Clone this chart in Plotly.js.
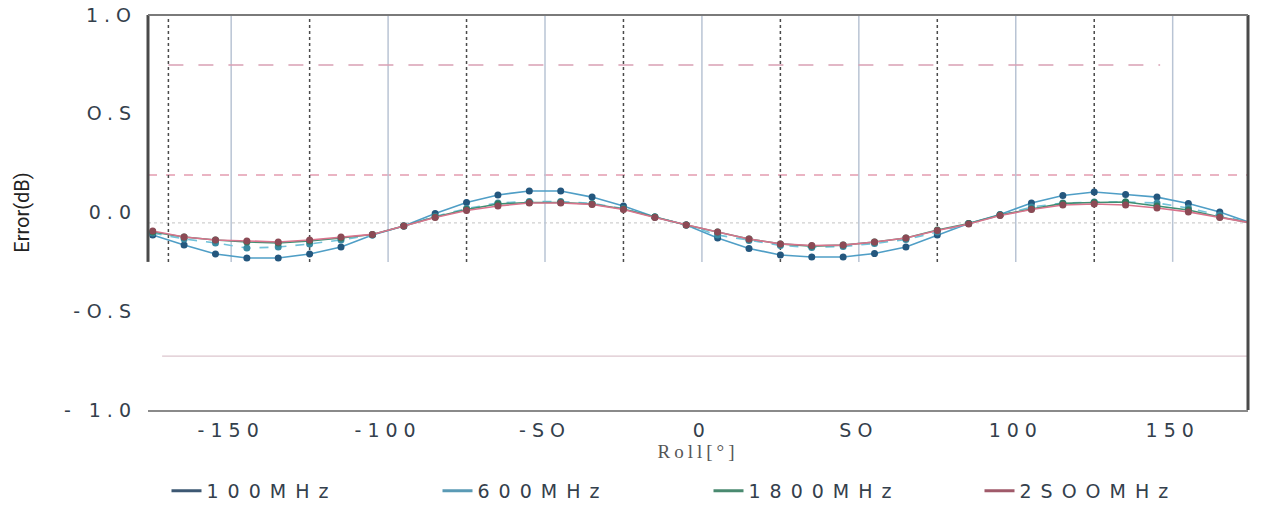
<!DOCTYPE html>
<html>
<head>
<meta charset="utf-8">
<script src="https://cdn.plot.ly/plotly-3.0.1.min.js"></script>
<style>
  html, body { margin: 0; padding: 0; background: #fff; }
  #chart { width: 1271px; height: 506px; }
  .xtick text, .ytick text { letter-spacing: 6px; }
  .legendtext { letter-spacing: 9px; }
  .g-xtitle text { letter-spacing: 4px; }
</style>
</head>
<body>
<div id="chart"></div>
<script>
// ---- data ----
const roll = [-175,-165,-155,-145,-135,-125,-115,-105,-95,-85,-75,-65,-55,-45,-35,-25,-15,-5,
              5,15,25,35,45,55,65,75,85,95,105,115,125,135,145,155,165,175];

const err100MHz = [-0.114,-0.165,-0.210,-0.230,-0.230,-0.210,-0.175,-0.114,-0.068,-0.005,
                   0.051,0.089,0.109,0.109,0.078,0.033,-0.023,-0.063,-0.129,-0.182,
                   -0.215,-0.225,-0.225,-0.208,-0.175,-0.114,-0.056,-0.010,0.048,0.086,
                   0.104,0.091,0.078,0.046,0.003,-0.053];
const err600MHz = [-0.104,-0.134,-0.154,-0.180,-0.175,-0.159,-0.139,-0.114,-0.068,-0.020,
                   0.020,0.048,0.056,0.056,0.046,0.020,-0.023,-0.063,-0.114,-0.142,
                   -0.167,-0.177,-0.172,-0.157,-0.137,-0.099,-0.056,-0.013,0.028,0.048,
                   0.053,0.053,0.048,0.023,-0.013,-0.053];
const err1800MHz = [-0.099,-0.124,-0.139,-0.149,-0.154,-0.144,-0.129,-0.111,-0.068,-0.023,
                    0.015,0.043,0.051,0.051,0.043,0.018,-0.023,-0.063,-0.099,-0.134,
                    -0.159,-0.170,-0.165,-0.149,-0.129,-0.089,-0.056,-0.013,0.018,0.046,
                    0.051,0.053,0.033,0.013,-0.023,-0.053];
const err2500MHz = [-0.094,-0.124,-0.139,-0.144,-0.149,-0.139,-0.124,-0.111,-0.068,-0.025,
                    0.010,0.033,0.048,0.048,0.041,0.015,-0.025,-0.063,-0.099,-0.134,
                    -0.159,-0.167,-0.165,-0.149,-0.129,-0.091,-0.058,-0.015,0.015,0.038,
                    0.043,0.038,0.023,0.003,-0.025,-0.053];

const seriesNames = ["100MHz", "600MHz", "1800MHz", "2SOOMHz"];

const xTickVals = [-150, -100, -50, 0, 50, 100, 150];
const xTickText = ["-150", "-100", "-SO", "0", "SO", "100", "150"];
const yTickVals = [1, 0.5, 0, -0.5, -1];
const yTickText = ["1.O", "O.S", "0.0", "-O.S", "- 1.0"];

const majorGridX = [-150, -100, -50, 0, 50, 100, 150];
const minorGridX = [-170, -125, -75, -25, 25, 75, 125];

// ---- styles ----
const seriesValues = [err100MHz, err600MHz, err1800MHz, err2500MHz];
const lineColors   = ["#4f9ec6", "#72c2da", "#3f8f72", "#d9738c"];
const markerColors = ["#24577e", "#3a8aa2", "#2f7a5e", "#8c4a55"];
const lineDash     = ["solid", "dash", "solid", "solid"];
const legendColors = ["#3d5873", "#5a9ab5", "#4a8a70", "#a05a6a"];

const traces = [];
seriesValues.forEach((vals, i) => {
  traces.push({
    x: roll, y: vals, type: "scatter", mode: "lines+markers",
    name: seriesNames[i], showlegend: false, cliponaxis: false,
    line: { color: lineColors[i], width: 1.6, dash: lineDash[i] },
    marker: { color: markerColors[i], size: 7 }
  });
});
seriesNames.forEach((n, i) => {
  traces.push({
    x: [null], y: [null], type: "scatter", mode: "lines", name: n,
    line: { color: legendColors[i], width: 3 }, hoverinfo: "skip"
  });
});

const shapes = [];
majorGridX.forEach(v => shapes.push({
  type: "line", xref: "x", yref: "y", x0: v, x1: v, y0: -0.25, y1: 1,
  line: { color: "#b9c4d4", width: 1.5 }, layer: "below"
}));
minorGridX.forEach(v => shapes.push({
  type: "line", xref: "x", yref: "y", x0: v, x1: v, y0: -0.25, y1: 1,
  line: { color: "#4a4a4a", width: 1.5, dash: "dot" }, layer: "below"
}));
// reference / guide lines seen in the picture
shapes.push({ type: "line", xref: "paper", yref: "y", x0: 0, x1: 1, y0: 0.19, y1: 0.19,
  line: { color: "#d66a88", width: 1.2, dash: "dash" }, layer: "below" });
shapes.push({ type: "line", xref: "paper", yref: "y", x0: 0, x1: 1, y0: -0.053, y1: -0.053,
  line: { color: "#cfcfcf", width: 1.2, dash: "dot" }, layer: "below" });
shapes.push({ type: "line", xref: "x", yref: "y", x0: -170, x1: 146, y0: 0.747, y1: 0.747,
  line: { color: "#d9a0b4", width: 1.5, dash: "longdash" }, layer: "below" });
shapes.push({ type: "line", xref: "x", yref: "y", x0: -172, x1: 174, y0: -0.727, y1: -0.727,
  line: { color: "#dcc6ce", width: 1.2 }, layer: "below" });
// frame
shapes.push({ type: "line", xref: "paper", yref: "y", x0: 0, x1: 0, y0: -0.25, y1: 1,
  line: { color: "#4a4a4a", width: 3 } });
shapes.push({ type: "line", xref: "paper", yref: "paper", x0: 1, x1: 1, y0: 0, y1: 1,
  line: { color: "#4a4a4a", width: 3 } });
shapes.push({ type: "line", xref: "paper", yref: "paper", x0: 0, x1: 1, y0: 1, y1: 1,
  line: { color: "#7a7a7a", width: 2 } });

const layout = {
  width: 1271, height: 506,
  margin: { l: 148, r: 23, t: 15, b: 96, autoexpand: false },
  paper_bgcolor: "#ffffff", plot_bgcolor: "#ffffff",
  showlegend: true,
  font: { family: "DejaVu Sans, Liberation Sans, sans-serif", color: "#34404c", size: 18 },
  xaxis: {
    range: [-176.5, 174], showgrid: false, zeroline: false,
    showline: true, linecolor: "#8a8a8a", linewidth: 2,
    tickmode: "array", tickvals: xTickVals, ticktext: xTickText,
    ticks: "", ticklabelstandoff: 2, automargin: false,
    tickfont: { family: "DejaVu Sans, sans-serif", size: 19, color: "#34404c" },
    title: { text: "Roll[°]", standoff: 0,
             font: { family: "Liberation Serif, serif", size: 19, color: "#555" } }
  },
  yaxis: {
    range: [-1, 1], showgrid: false, zeroline: false, showline: false,
    tickmode: "array", tickvals: yTickVals, ticktext: yTickText,
    ticks: "", ticklabelstandoff: 10, automargin: false,
    tickfont: { family: "DejaVu Sans, sans-serif", size: 19, color: "#34404c" },
    title: { text: "Error(dB)", standoff: 28,
             font: { family: "Liberation Sans Narrow, Roboto, sans-serif", size: 20, color: "#222" } }
  },
  legend: {
    orientation: "h", xref: "container", yref: "container",
    x: 0.131, xanchor: "left", y: 0.03, yanchor: "middle",
    entrywidth: 226, entrywidthmode: "pixels", itemwidth: 30,
    font: { family: "DejaVu Sans, sans-serif", size: 19, color: "#34404c" },
    bgcolor: "rgba(0,0,0,0)"
  },
  shapes: shapes
};

Plotly.newPlot("chart", traces, layout, { displayModeBar: false, staticPlot: true });
</script>
</body>
</html>
